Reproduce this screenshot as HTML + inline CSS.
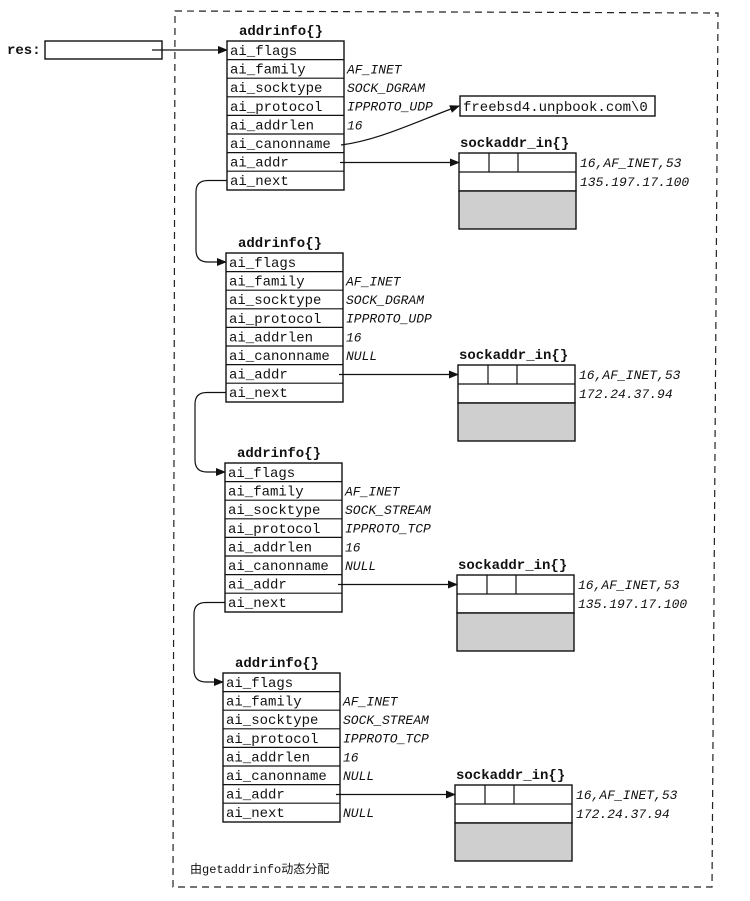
<!DOCTYPE html>
<html><head><meta charset="utf-8"><style>
html,body{margin:0;padding:0;background:#fff;}
svg{display:block;}
text{font-family:"Liberation Mono","Noto Sans CJK SC",monospace;font-size:14px;fill:#111;}
.b{font-weight:bold;font-size:14px;}
.i{font-style:italic;font-size:13px;}
.r{fill:#fff;stroke:#111;stroke-width:1.4;}
.g{fill:#cfcfcf;stroke:#111;stroke-width:1.4;}
.l{stroke:#111;stroke-width:1.2;fill:none;}
</style></head><body>
<svg width="750" height="901" viewBox="0 0 750 901" xmlns="http://www.w3.org/2000/svg">
<defs>
<marker id="a" markerWidth="10" markerHeight="8" refX="9" refY="4" orient="auto" markerUnits="userSpaceOnUse">
<path d="M0,0 L10,4 L0,8 Z" fill="#111"/></marker>
<g id="st">
<rect class="r" x="0" y="0" width="117" height="149"/>
<line class="l" x1="0" y1="18.6" x2="117" y2="18.6"/>
<line class="l" x1="0" y1="37.2" x2="117" y2="37.2"/>
<line class="l" x1="0" y1="55.8" x2="117" y2="55.8"/>
<line class="l" x1="0" y1="74.4" x2="117" y2="74.4"/>
<line class="l" x1="0" y1="93" x2="117" y2="93"/>
<line class="l" x1="0" y1="111.6" x2="117" y2="111.6"/>
<line class="l" x1="0" y1="130.2" x2="117" y2="130.2"/>
<text class="b" x="12" y="-6">addrinfo{}</text>
<text x="3" y="14">ai_flags</text>
<text x="3" y="32.6">ai_family</text>
<text x="3" y="51.2">ai_socktype</text>
<text x="3" y="69.8">ai_protocol</text>
<text x="3" y="88.4">ai_addrlen</text>
<text x="3" y="107">ai_canonname</text>
<text x="3" y="125.6">ai_addr</text>
<text x="3" y="144.2">ai_next</text>
<text class="i" x="120" y="32.6">AF_INET</text>
<text class="i" x="120" y="88.4">16</text>
</g>
<g id="sk">
<rect class="r" x="0" y="0" width="117" height="38"/>
<rect class="g" x="0" y="38" width="117" height="38"/>
<line class="l" x1="0" y1="19" x2="117" y2="19"/>
<line class="l" x1="30" y1="0" x2="30" y2="19"/>
<line class="l" x1="59" y1="0" x2="59" y2="19"/>
<text class="b" x="1" y="-6">sockaddr_in{}</text>
<text class="i" x="121" y="14">16,AF_INET,53</text>
</g>
</defs>

<path d="M175,11 L718,13 L712,887 L173,887 Z" fill="none" stroke="#222" stroke-width="1.2" stroke-dasharray="7,5"/>

<text class="b" x="7" y="54">res:</text>
<rect class="r" x="45" y="41" width="117" height="18"/>
<line class="l" x1="152" y1="50" x2="227" y2="50" marker-end="url(#a)"/>

<use href="#st" x="227" y="41"/>
<text class="i" x="347" y="92">SOCK_DGRAM</text>
<text class="i" x="347" y="110.6">IPPROTO_UDP</text>
<rect class="r" x="460" y="96" width="195" height="20"/>
<text x="463" y="111">freebsd4.unpbook.com\0</text>
<path class="l" d="M341,145 C380,140 420,120 459,106" marker-end="url(#a)"/>
<use href="#sk" x="459" y="153"/>
<text class="i" x="580" y="186">135.197.17.100</text>
<line class="l" x1="340" y1="162.5" x2="459" y2="162.5" marker-end="url(#a)"/>
<path class="l" d="M227,180.5 L208,180.5 Q196,180.5 196,192 L196,250 Q196,262 208,262 L226,262" marker-end="url(#a)"/>

<use href="#st" x="226" y="253"/>
<text class="i" x="346" y="304">SOCK_DGRAM</text>
<text class="i" x="346" y="322.6">IPPROTO_UDP</text>
<text class="i" x="346" y="360">NULL</text>
<use href="#sk" x="458" y="365"/>
<text class="i" x="579" y="398">172.24.37.94</text>
<line class="l" x1="339" y1="374.5" x2="458" y2="374.5" marker-end="url(#a)"/>
<path class="l" d="M226,392.5 L207,392.5 Q195,392.5 195,404 L195,460 Q195,472 207,472 L225,472" marker-end="url(#a)"/>

<use href="#st" x="225" y="463"/>
<text class="i" x="345" y="514">SOCK_STREAM</text>
<text class="i" x="345" y="532.6">IPPROTO_TCP</text>
<text class="i" x="345" y="570">NULL</text>
<use href="#sk" x="457" y="575"/>
<text class="i" x="578" y="608">135.197.17.100</text>
<line class="l" x1="338" y1="584.5" x2="457" y2="584.5" marker-end="url(#a)"/>
<path class="l" d="M225,602.5 L206,602.5 Q194,602.5 194,614 L194,670 Q194,682 206,682 L223,682" marker-end="url(#a)"/>

<use href="#st" x="223" y="673"/>
<text class="i" x="343" y="724">SOCK_STREAM</text>
<text class="i" x="343" y="742.6">IPPROTO_TCP</text>
<text class="i" x="343" y="780">NULL</text>
<text class="i" x="343" y="817">NULL</text>
<use href="#sk" x="455" y="785"/>
<text class="i" x="576" y="818">172.24.37.94</text>
<line class="l" x1="336" y1="794.5" x2="455" y2="794.5" marker-end="url(#a)"/>

<text x="190" y="873" style="font-size:12px">由getaddrinfo动态分配</text>
</svg>
</body></html>
